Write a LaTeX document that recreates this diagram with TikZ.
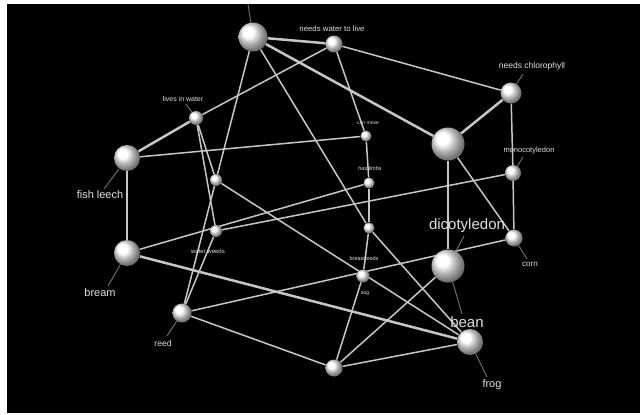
\documentclass[tikz,border=0pt]{standalone}
\usepackage{fontspec}
\setmainfont{Liberation Sans}
\usetikzlibrary{backgrounds}
\pgfdeclarelayer{links}
\pgfsetlayers{background,links,main}

\begin{document}
\begin{tikzpicture}[x=1pt, y=-1pt,
    ball/.style={circle, inner sep=0pt, shading=ball, ball color=white},
    link/.style={draw=white!78!black, line width=1.5pt},
    fat link/.style={link, line width=2.5pt},
    leader/.style={draw=white!45!black, line width=0.9pt},
    lbl/.style={text=white!88!black, inner sep=0pt, font=\fontsize{#1}{#1}\selectfont},
    lbl/.default=8
]
    \useasboundingbox (0,0) rectangle (643,415);
    \begin{pgfonlayer}{background}
        \fill[black] (7,4) rectangle (640,413);
    \end{pgfonlayer}

    % concepts
    \draw (253,37)  node[ball, minimum size=29] (land) {};
    \draw (334,44)  node[ball, minimum size=17] (water) {};
    \draw (511,93)  node[ball, minimum size=21] (chloro) {};
    \draw (196,118) node[ball, minimum size=14] (inwater) {};
    \draw (366,136) node[ball, minimum size=11] (move) {};
    \draw (127,158) node[ball, minimum size=26] (leech) {};
    \draw (448,144) node[ball, minimum size=33] (landplant) {};
    \draw (513,173) node[ball, minimum size=16] (mono) {};
    \draw (369,183) node[ball, minimum size=11] (limbs) {};
    \draw (216,180) node[ball, minimum size=12] (amph) {};
    \draw (216,231) node[ball, minimum size=12] (weeds) {};
    \draw (369,228) node[ball, minimum size=11] (landanimal) {};
    \draw (514,238) node[ball, minimum size=17] (corn) {};
    \draw (127,253) node[ball, minimum size=26] (bream) {};
    \draw (448,266) node[ball, minimum size=33] (dicot) {};
    \draw (363,276) node[ball, minimum size=13] (dog) {};
    \draw (182,313) node[ball, minimum size=19] (reed) {};
    \draw (470,342) node[ball, minimum size=26] (frog) {};
    \draw (334,368) node[ball, minimum size=17] (bottom) {};

    % labels
    \draw (332,29)  node[lbl=7.8] (water-lbl) {needs water to live};
    \draw (532,66)  node[lbl=8.5] (chloro-lbl) {needs chlorophyll};
    \draw (183,99)  node[lbl=7] (inwater-lbl) {lives in water};
    \draw (368,123) node[lbl=5] (move-lbl) {can move};
    \draw (370,169) node[lbl=5.5] (limbs-lbl) {has limbs};
    \draw (100,195) node[lbl=11] (leech-lbl) {fish leech};
    \draw (529,151) node[lbl=7.5] (mono-lbl) {monocotyledon};
    \draw (208,251) node[lbl=6] (weeds-lbl) {water weeds};
    \draw (530,264) node[lbl=8] (corn-lbl) {corn};
    \draw (100,293) node[lbl=11] (bream-lbl) {bream};
    \draw (467,226) node[lbl=15] (dicot-lbl) {dicotyledon};
    \draw (467,322) node[lbl=15] (bean-lbl) {bean};
    \draw (364,259) node[lbl=5.5] (feeds-lbl) {breastfeeds};
    \draw (365,293) node[lbl=5] (dog-lbl) {dog};
    \draw (163,343) node[lbl=8.5] (reed-lbl) {reed};
    \draw (492,385) node[lbl=11] (frog-lbl) {frog};

    \coordinate (land-pin) at (248,4);
    \coordinate (chloro-pin) at (523,74);
    \coordinate (inwater-pin) at (186,104);
    \coordinate (mono-pin) at (523,157);
    \coordinate (leech-pin) at (104,189);
    \coordinate (bream-pin) at (108,286);
    \coordinate (dicot-pin) at (464,236);
    \coordinate (bean-pin) at (462,314);
    \coordinate (corn-pin) at (527,259);
    \coordinate (reed-pin) at (167,336);
    \coordinate (frog-pin) at (487,377);

    \begin{pgfonlayer}{links}
        \foreach \a/\b in {water/land, land/landplant, chloro/landplant, landplant/dicot,
                           inwater/leech, leech/bream, bream/frog} {
            \draw[fat link] (\a) -- (\b);
        }
        \foreach \a/\b in {water/chloro, water/inwater, water/move, land/amph, land/landanimal,
                           chloro/mono, inwater/amph, inwater/weeds, move/limbs, move/leech,
                           landplant/corn, mono/weeds, mono/corn, amph/frog, amph/reed,
                           limbs/bream, limbs/landanimal, landanimal/dog, landanimal/frog,
                           corn/reed, weeds/reed, dog/bottom, dicot/bottom, frog/bottom, reed/bottom} {
            \draw[link] (\a) -- (\b);
        }
        % label pins
        \foreach \p/\n in {land/land, chloro/chloro, inwater/inwater, mono/mono, leech/leech,
                           bream/bream, dicot/dicot, bean/dicot, corn/corn, reed/reed, frog/frog} {
            \draw[leader] (\p-pin) -- (\n);
        }
    \end{pgfonlayer}
\end{tikzpicture}
\end{document}
